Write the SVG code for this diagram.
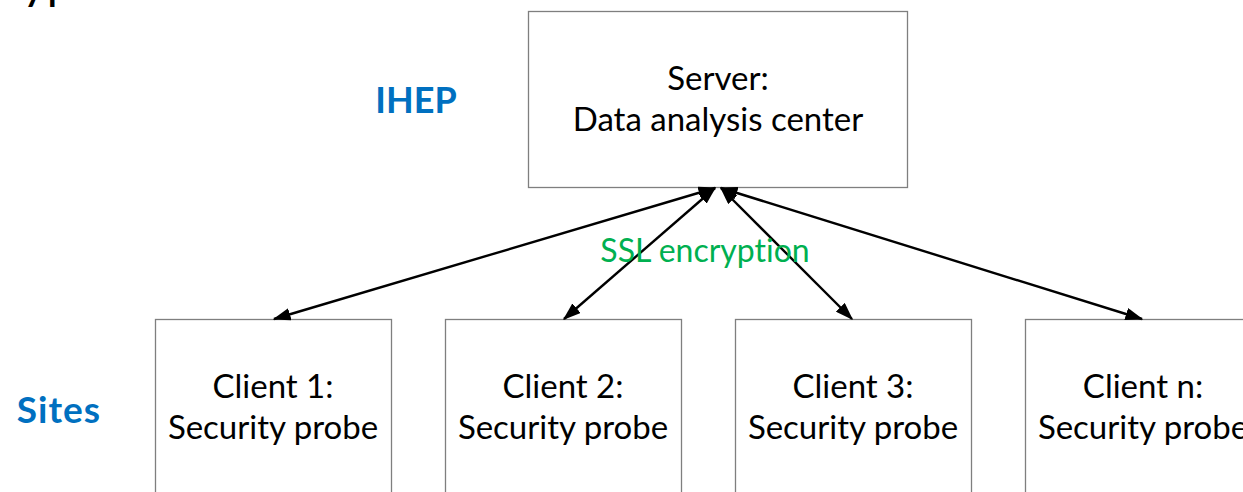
<svg xmlns="http://www.w3.org/2000/svg" width="1243" height="492" viewBox="0 0 1243 492">
  <style>
    text { font-variant-ligatures: none; }
    .box { fill: #ffffff; stroke: #7f7f7f; stroke-width: 1.3; }
    .txt { font-family: Lato, "Open Sans", sans-serif; font-size: 33px; fill: #000000; text-anchor: middle; }
    .lbl { font-family: Lato, "Open Sans", sans-serif; font-weight: bold; fill: #0070c0; text-anchor: middle; }
    .ssl { font-family: Lato, "Open Sans", sans-serif; font-size: 32px; fill: #00b050; text-anchor: middle; }
    .link { stroke: #000000; stroke-width: 2.4; fill: none; marker-start: url(#head); marker-end: url(#head); }
  </style>
  <defs>
    <marker id="head" viewBox="0 0 10 7" refX="9.2" refY="3.5" markerWidth="7.5" markerHeight="5.25" markerUnits="strokeWidth" orient="auto-start-reverse">
      <path d="M0,0 L10,3.5 L0,7 z" fill="#000000"/>
    </marker>
  </defs>

  <!-- title fragment at the top edge -->
  <text x="22" y="-1" style="font-family: Lato, 'Open Sans', sans-serif; font-size: 48px; fill: #000000;">yp</text>

  <!-- side labels -->
  <text class="lbl" x="416" y="113" font-size="36">IHEP</text>
  <text class="lbl" x="59" y="423" font-size="37" letter-spacing="1">Sites</text>

  <!-- server -->
  <g id="server">
    <rect class="box" x="528.5" y="11.5" width="379" height="176"/>
    <text class="txt" x="718" y="90">Server:</text>
    <text class="txt" x="718" y="131">Data analysis center</text>
  </g>

  <!-- clients -->
  <g id="client1">
    <rect class="box" x="155.5" y="319.5" width="236" height="190"/>
    <text class="txt" x="273" y="398">Client 1:</text>
    <text class="txt" x="273" y="439">Security probe</text>
  </g>
  <g id="client2">
    <rect class="box" x="445.5" y="319.5" width="236" height="190"/>
    <text class="txt" x="563" y="398">Client 2:</text>
    <text class="txt" x="563" y="439">Security probe</text>
  </g>
  <g id="client3">
    <rect class="box" x="735.5" y="319.5" width="236" height="190"/>
    <text class="txt" x="853" y="398">Client 3:</text>
    <text class="txt" x="853" y="439">Security probe</text>
  </g>
  <g id="clientn">
    <rect class="box" x="1025.5" y="319.5" width="236" height="190"/>
    <text class="txt" x="1143" y="398">Client n:</text>
    <text class="txt" x="1143" y="439">Security probe</text>
  </g>

  <!-- encrypted links between server and clients -->
  <g id="connectors">
    <line class="link" x1="715" y1="188" x2="274" y2="319"/>
    <line class="link" x1="715" y1="188" x2="564" y2="319"/>
    <line class="link" x1="721" y1="188" x2="852" y2="319"/>
    <line class="link" x1="721" y1="188" x2="1142" y2="319"/>
  </g>

  <text class="ssl" x="705" y="262">SSL encryption</text>
</svg>
